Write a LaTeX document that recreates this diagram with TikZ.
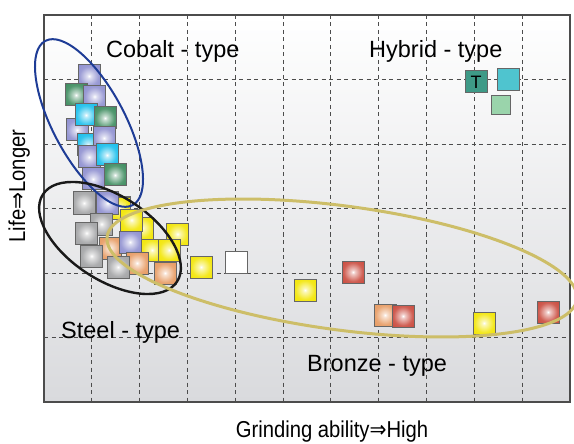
\documentclass[tikz,border=0pt]{standalone}
\usepackage{fontspec}
\setmainfont{Liberation Sans}
\newfontfamily\axisfont{Liberation Sans}[FakeStretch=0.88]
\newfontfamily\axisarrow{DejaVu Sans}[FakeStretch=0.88]
\usepackage{xcolor}
\usepackage{tikz}
\usetikzlibrary{positioning}
\usetikzlibrary{shapes}

\definecolor{lavcol}{HTML}{8D8ECF}
\definecolor{grncol}{HTML}{3A8A5C}
\definecolor{cyncol}{HTML}{14BDEB}
\definecolor{grycol}{HTML}{A0A1A3}
\definecolor{yelcol}{HTML}{F2E500}
\definecolor{orgcol}{HTML}{E6985E}
\definecolor{redcol}{HTML}{C9473A}
\definecolor{tealcol}{HTML}{3E9A87}
\definecolor{hcyncol}{HTML}{4FC4CF}
\definecolor{mintcol}{HTML}{9AD4AB}
\definecolor{ovalblue}{HTML}{1E3C96}
\definecolor{ovalolive}{HTML}{CDBE68}
\definecolor{bglow}{HTML}{D9DADD}
\colorlet{tilecol}{grycol}

\pgfdeclareradialshading[tilecol]{tileshade}{\pgfpoint{0bp}{0bp}}{%
  color(0bp)=(white); color(5bp)=(tilecol!30!white);
  color(22bp)=(tilecol!88!white); color(38bp)=(tilecol);
  color(100bp)=(tilecol)}

\begin{document}
\begin{tikzpicture}[x=1pt,y=-1pt,
    tile/.style={rectangle,draw=black!60,line width=1pt,minimum size=22pt,
      inner sep=0pt},
    shaded tile/.style={tile,/utils/exec={\colorlet{tilecol}{#1}},
      shading=tileshade},
    lav tile/.style={shaded tile=lavcol},
    grn tile/.style={shaded tile=grncol},
    cyn tile/.style={shaded tile=cyncol},
    gry tile/.style={shaded tile=grycol},
    yel tile/.style={shaded tile=yelcol},
    org tile/.style={shaded tile=orgcol},
    red tile/.style={shaded tile=redcol},
    flat tile/.style={tile,fill=#1},
    grid line/.style={black!70,line width=0.8pt,dash pattern=on 4pt off 3.5pt},
    type label/.style={anchor=base west,inner sep=0pt,
      font=\fontsize{23.5}{28}\selectfont},
    axis label/.style={inner sep=0pt,font=\fontsize{23}{28}\axisfont}
  ]
  \useasboundingbox (0,0) rectangle (574,444);

  % plot area
  \shade[top color=white,bottom color=bglow] (44,15) rectangle (570,402);
  \foreach \gx in {1,...,10}
    \draw[grid line] (44+47.8*\gx,15) -- (44+47.8*\gx,402);
  \foreach \gy in {1,...,5}
    \draw[grid line] (44,15+64.5*\gy) -- (570,15+64.5*\gy);
  \draw[black!70,line width=1.3pt] (44,15) rectangle (570,402);

  % cobalt group
  \node[lav tile] (c1) at (89,76) {};
  \node[grn tile] (c2) at (76,95) {};
  \node[lav tile] (c3) at (94.5,96.5) {};
  \node[lav tile] (c4) at (77,130) {};
  \node[cyn tile] (c5) at (86,115) {};
  \node[grn tile] (c6) at (105,118) {};
  \node[cyn tile] (c7) at (88,145) {};
  \node[lav tile] (c8) at (104,138) {};
  \node[lav tile] (c9) at (89,157) {};
  \node[cyn tile] (c10) at (107,155) {};
  \node[lav tile] (c11) at (93,179) {};
  \node[grn tile] (c12) at (115,175) {};

  % steel group
  \node[yel tile] (s1) at (119,208) {};
  \node[gry tile] (s2) at (84,203) {};
  \node[lav tile] (s3) at (107.5,203) {};
  \node[gry tile] (s4) at (101.5,224) {};
  \node[gry tile] (s5) at (86.5,233) {};
  \node[yel tile] (s6) at (142,228) {};
  \node[yel tile] (s7) at (131.5,220) {};
  \node[org tile] (s8) at (110,248) {};
  \node[yel tile] (s9) at (152,250) {};
  \node[lav tile] (s10) at (130,242) {};
  \node[yel tile] (s11) at (177.5,234) {};
  \node[yel tile] (s12) at (169,250) {};
  \node[gry tile] (s13) at (91.5,256) {};
  \node[org tile] (s14) at (137,263) {};
  \node[gry tile] (s15) at (118,267) {};
  \node[org tile] (s16) at (165,273) {};

  % bronze group
  \node[yel tile] (b1) at (201,267) {};
  \node[flat tile=white] (b2) at (236,262) {};
  \node[red tile] (b3) at (353,272) {};
  \node[yel tile] (b4) at (305,290) {};
  \node[org tile] (b5) at (385,315) {};
  \node[red tile] (b6) at (403,316) {};
  \node[yel tile] (b7) at (484,323) {};
  \node[red tile] (b8) at (548,312) {};

  % hybrid group
  \node[flat tile=tealcol,font=\fontsize{18}{20}\selectfont] (h1) at (476,82) {T};
  \node[flat tile=hcyncol] (h2) at (508.5,80) {};
  \node[flat tile=mintcol,minimum size=19pt] (h3) at (500.5,105) {};

  % groups
  \draw[ovalblue,line width=2pt,rotate around={-62:(89,123)}]
    (89,123) ellipse [x radius=93, y radius=36];
  \draw[black!90,line width=2.4pt,rotate around={-33:(110,238)}]
    (110,238) ellipse [x radius=80, y radius=42];
  \draw[ovalolive,line width=3pt,rotate around={-7.6:(342,268)}]
    (342,268) ellipse [x radius=237, y radius=62];

  % labels
  \node[type label] (cobalt) at (106,58) {Cobalt - type};
  \node[type label] (hybrid) at (369,58) {Hybrid - type};
  \node[type label] (steel) at (61,338) {Steel - type};
  \node[type label] (bronze) at (307,371) {Bronze - type};
  \node[axis label,anchor=base] (xlab) at (332,437)
    {Grinding ability{\axisarrow ⇒}High};
  \node[axis label,anchor=base,rotate=90] (ylab) at (25,186)
    {Life{\axisarrow ⇒}Longer};
\end{tikzpicture}
\end{document}
